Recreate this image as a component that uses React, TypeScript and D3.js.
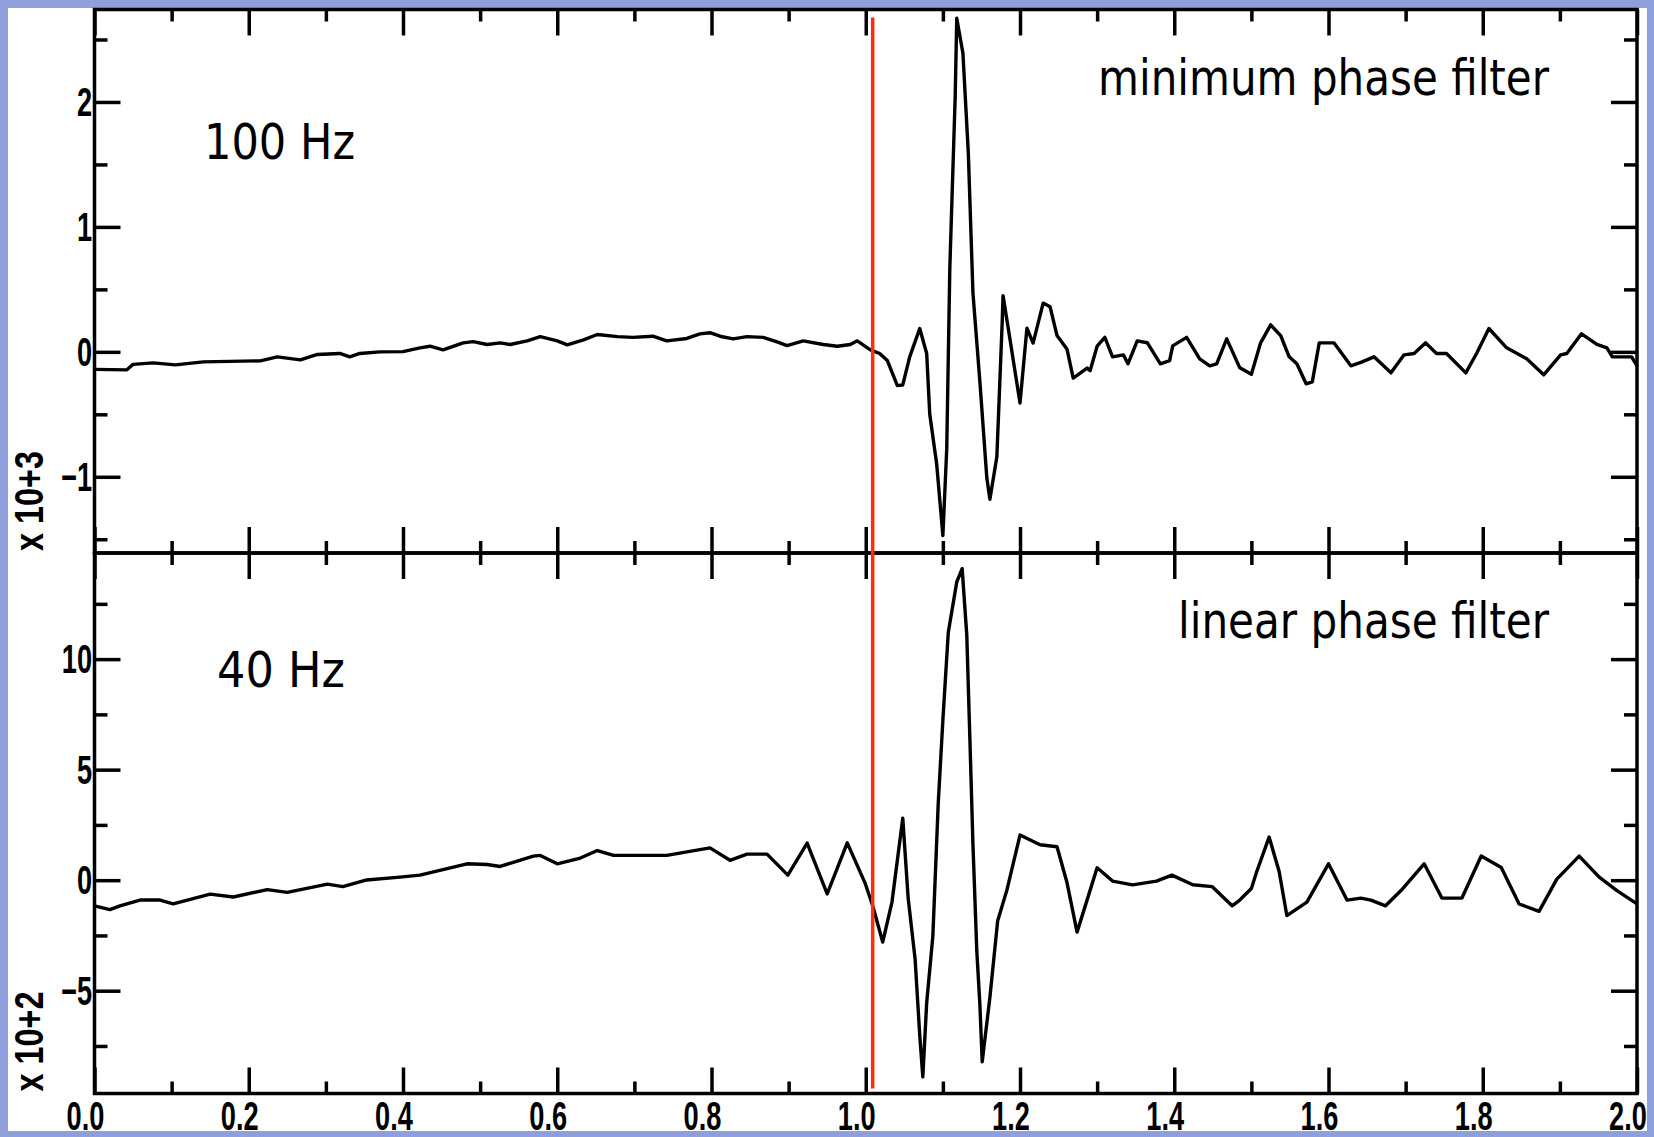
import React, { useEffect, useRef } from "react";
import * as d3 from "d3";

// 100 Hz trace, minimum phase filter (units of 10^3)
const times100 = [
  0.0, 0.042, 0.05, 0.076, 0.105, 0.141, 0.215, 0.237, 0.267, 0.289, 0.318, 0.331, 0.344, 0.37, 0.4,
  0.422, 0.435, 0.452, 0.478, 0.491, 0.509, 0.526, 0.539, 0.561, 0.578, 0.6, 0.613, 0.634, 0.652, 0.678,
  0.698, 0.724, 0.742, 0.768, 0.785, 0.798, 0.811, 0.828, 0.846, 0.867, 0.885, 0.898, 0.919, 0.945, 0.963,
  0.98, 0.989, 1.006, 1.018, 1.028, 1.041, 1.048, 1.057, 1.07, 1.079, 1.083, 1.092, 1.1, 1.105, 1.109,
  1.116, 1.118, 1.126, 1.133, 1.139, 1.148, 1.157, 1.161, 1.17, 1.177, 1.178, 1.187, 1.2, 1.209, 1.217,
  1.23, 1.239, 1.248, 1.261, 1.269, 1.287, 1.291, 1.3, 1.31, 1.32, 1.334, 1.34, 1.352, 1.365, 1.382,
  1.394, 1.398, 1.416, 1.433, 1.446, 1.455, 1.468, 1.485, 1.5, 1.512, 1.525, 1.538, 1.549, 1.559, 1.571,
  1.579, 1.588, 1.607, 1.629, 1.642, 1.659, 1.681, 1.698, 1.711, 1.726, 1.74, 1.753, 1.778, 1.792, 1.808,
  1.831, 1.857, 1.879, 1.901, 1.909, 1.928, 1.948, 1.961, 1.968, 1.983, 1.993, 2.0,
];
const trace100 = [
  -0.14, -0.144, -0.1, -0.088, -0.104, -0.08, -0.072, -0.04, -0.064, -0.021, -0.013, -0.04, -0.013, 0.0, 0.002,
  0.032, 0.045, 0.016, 0.072, 0.082, 0.059, 0.072, 0.059, 0.088, 0.122, 0.088, 0.056, 0.096, 0.139, 0.122,
  0.116, 0.125, 0.088, 0.107, 0.144, 0.153, 0.125, 0.104, 0.122, 0.116, 0.08, 0.05, 0.088, 0.059, 0.045,
  0.059, 0.088, 0.016, -0.013, -0.07, -0.27, -0.265, -0.04, 0.187, -0.013, -0.5, -0.9, -1.47, -0.78, 0.67,
  2.05, 2.67, 2.39, 1.59, 0.47, -0.24, -1.01, -1.18, -0.84, 0.25, 0.45, 0.1, -0.41, 0.19, 0.07,
  0.39, 0.36, 0.13, 0.02, -0.21, -0.13, -0.15, 0.045, 0.116, -0.04, -0.024, -0.096, 0.088, 0.073, -0.096,
  -0.07, 0.048, 0.116, -0.056, -0.112, -0.096, 0.104, -0.128, -0.18, 0.072, 0.216, 0.13, -0.04, -0.096, -0.256,
  -0.24, 0.072, 0.072, -0.112, -0.084, -0.04, -0.168, -0.024, -0.013, 0.072, -0.013, -0.013, -0.168, -0.013, 0.187,
  0.032, -0.056, -0.184, -0.024, -0.013, 0.144, 0.059, 0.032, -0.04, -0.04, -0.04, -0.112,
];

// 40 Hz trace, linear phase filter (units of 10^2)
const times40 = [
  0.0, 0.02, 0.033, 0.059, 0.085, 0.102, 0.15, 0.18, 0.224, 0.25, 0.302, 0.322, 0.353, 0.396, 0.422,
  0.483, 0.509, 0.526, 0.569, 0.578, 0.6, 0.63, 0.652, 0.673, 0.742, 0.798, 0.824, 0.846, 0.872, 0.899,
  0.924, 0.95, 0.976, 0.999, 1.009, 1.022, 1.034, 1.048, 1.055, 1.064, 1.07, 1.074, 1.079, 1.087, 1.094,
  1.1, 1.107, 1.118, 1.125, 1.131, 1.135, 1.139, 1.144, 1.148, 1.151, 1.161, 1.171, 1.183, 1.2, 1.226,
  1.248, 1.261, 1.274, 1.3, 1.32, 1.346, 1.377, 1.397, 1.424, 1.449, 1.475, 1.485, 1.5, 1.507, 1.523,
  1.536, 1.546, 1.572, 1.6, 1.624, 1.642, 1.655, 1.674, 1.694, 1.724, 1.747, 1.773, 1.798, 1.824, 1.847,
  1.873, 1.896, 1.925, 1.951, 1.974, 2.0,
];
const trace40 = [
  -1.16, -1.33, -1.16, -0.9, -0.9, -1.07, -0.63, -0.76, -0.43, -0.55, -0.18, -0.29, 0.01, 0.14, 0.23,
  0.74, 0.71, 0.62, 1.09, 1.12, 0.74, 1.0, 1.34, 1.12, 1.12, 1.46, 0.9, 1.18, 1.18, 0.23,
  1.68, -0.62, 1.69, -0.12, -1.16, -2.8, -0.99, 2.8, -0.81, -3.57, -7.01, -8.9, -5.55, -2.53, 3.49,
  7.24, 11.2, 13.49, 14.09, 11.08, 6.42, 1.6, -3.21, -5.64, -8.22, -5.29, -1.85, -0.45, 2.04, 1.6,
  1.51, -0.12, -2.35, 0.56, -0.04, -0.21, -0.04, 0.23, -0.21, -0.29, -1.16, -0.9, -0.38, 0.39, 1.95,
  0.39, -1.6, -0.99, 0.74, -0.9, -0.81, -0.9, -1.16, -0.47, 0.74, -0.81, -0.81, 1.09, 0.57, -1.07,
  -1.41, 0.05, 1.09, 0.14, -0.47, -1.07,
];

const xMajorTicks = [0, 0.2, 0.4, 0.6, 0.8, 1.0, 1.2, 1.4, 1.6, 1.8, 2.0];
const xMinorTicks = [0.1, 0.3, 0.5, 0.7, 0.9, 1.1, 1.3, 1.5, 1.7, 1.9];
const xTickLabels = ["0.0", "0.2", "0.4", "0.6", "0.8", "1.0", "1.2", "1.4", "1.6", "1.8", "2.0"];
const upperMajorTicks = [-1, 0, 1, 2];
const upperMinorTicks = [-1.5, -0.5, 0.5, 1.5, 2.5];
const lowerMajorTicks = [-5, 0, 5, 10];
const lowerMinorTicks = [-7.5, -2.5, 2.5, 7.5, 12.5];
const onsetTime = 1.009;

const W = 1654;
const H = 1137;
const LEFT = 94.5;
const RIGHT = 1637;

const App = () => {
  const svgRef = useRef<SVGSVGElement>(null);

  useEffect(() => {
    const svg = d3.select(svgRef.current);
    svg.selectAll("*").remove();

    // blue frame + white page
    svg.append("rect").attr("width", W).attr("height", H).attr("fill", "#8f9fdb");
    svg.append("rect").attr("x", 8).attr("y", 8).attr("width", 1639).attr("height", 1123).attr("fill", "#fff");

    const x = d3.scaleLinear().domain([0, 2]).range([LEFT, RIGHT]);

    const panels = [
      {
        times: times100, values: trace100, domain: [-1.61, 2.74], top: 9.5, bottom: 553,
        major: upperMajorTicks, minor: upperMinorTicks,
        scaleLabel: "x 10+3",
        title: "minimum phase filter", titlePos: [1098, 95, 451],
        freq: "100 Hz", freqPos: [204, 159, 151],
      },
      {
        times: times40, values: trace40, domain: [-9.65, 14.8], top: 553, bottom: 1093.5,
        major: lowerMajorTicks, minor: lowerMinorTicks,
        scaleLabel: "x 10+2",
        title: "linear phase filter", titlePos: [1178, 638, 371],
        freq: "40 Hz", freqPos: [217, 687, 128],
      },
    ];

    const digits = (g, tx, ty, text, anchor, sx = 0.68) =>
      g.append("text")
        .attr("transform", `translate(${tx},${ty}) scale(${sx},1)`)
        .attr("text-anchor", anchor)
        .attr("font-family", "'Liberation Sans', Arial, sans-serif")
        .attr("font-weight", "bold")
        .attr("font-size", 40)
        .attr("fill", "#000")
        .text(text);

    panels.forEach((p) => {
      const y = d3.scaleLinear().domain(p.domain).range([p.bottom, p.top]);
      const g = svg.append("g");

      // inward ticks on all four sides
      const tickGroup = (axis, tx, ty) => {
        const a = g.append("g").attr("transform", `translate(${tx},${ty})`).call(axis);
        a.select(".domain").remove();
        a.selectAll("line").attr("stroke", "#000").attr("stroke-width", 3.5);
      };
      tickGroup(d3.axisLeft(y).tickValues(p.major).tickSize(-26).tickFormat(() => ""), LEFT, 0);
      tickGroup(d3.axisLeft(y).tickValues(p.minor).tickSize(-13).tickFormat(() => ""), LEFT, 0);
      tickGroup(d3.axisRight(y).tickValues(p.major).tickSize(-26).tickFormat(() => ""), RIGHT, 0);
      tickGroup(d3.axisRight(y).tickValues(p.minor).tickSize(-13).tickFormat(() => ""), RIGHT, 0);
      tickGroup(d3.axisTop(x).tickValues(xMajorTicks).tickSize(-26).tickFormat(() => ""), 0, p.top);
      tickGroup(d3.axisTop(x).tickValues(xMinorTicks).tickSize(-12).tickFormat(() => ""), 0, p.top);
      tickGroup(d3.axisBottom(x).tickValues(xMajorTicks).tickSize(-26).tickFormat(() => ""), 0, p.bottom);
      tickGroup(d3.axisBottom(x).tickValues(xMinorTicks).tickSize(-12).tickFormat(() => ""), 0, p.bottom);

      // frame
      g.append("rect")
        .attr("x", LEFT).attr("y", p.top)
        .attr("width", RIGHT - LEFT).attr("height", p.bottom - p.top)
        .attr("fill", "none").attr("stroke", "#000").attr("stroke-width", 3.5);

      // y tick labels
      p.major.forEach((v) => {
        digits(g, LEFT - 2.5, y(v) + 14, String(v).replace("-", "\u2212"), "end");
      });

      // rotated scale label
      g.append("text")
        .attr("transform", `translate(43,${p.bottom - 2}) rotate(-90) scale(0.81,1)`)
        .attr("font-family", "'Liberation Sans', Arial, sans-serif")
        .attr("font-weight", "bold")
        .attr("font-size", 40)
        .text(p.scaleLabel);

      // trace
      const line = d3.line<number>()
        .x((d, i) => x(p.times[i]))
        .y((d) => y(d));
      g.append("path")
        .datum(p.values)
        .attr("d", line)
        .attr("fill", "none")
        .attr("stroke", "#000")
        .attr("stroke-width", 3.4)
        .attr("stroke-linejoin", "round");

      // annotations
      [[p.title, p.titlePos], [p.freq, p.freqPos]].forEach(([txt, pos]) => {
        g.append("text")
          .attr("x", pos[0]).attr("y", pos[1])
          .attr("textLength", pos[2])
          .attr("lengthAdjust", "spacingAndGlyphs")
          .attr("font-family", "'DejaVu Sans', Verdana, sans-serif")
          .attr("font-size", 50)
          .attr("fill", "#000")
          .text(txt);
      });
    });

    // x tick labels
    xMajorTicks.forEach((t, i) => {
      digits(svg, x(t) - 9, 1130, xTickLabels[i], "middle");
    });

    // onset marker
    svg.append("line")
      .attr("x1", x(onsetTime)).attr("x2", x(onsetTime))
      .attr("y1", panels[0].top + 8).attr("y2", panels[1].bottom - 5)
      .attr("stroke", "#ff2d08")
      .attr("stroke-width", 3.5);
  }, []);

  return (
    <div style={{ position: "absolute", left: 0, top: 0 }}>
      <svg ref={svgRef} width={W} height={H} style={{ display: "block" }}></svg>
    </div>
  );
};

export default App;
